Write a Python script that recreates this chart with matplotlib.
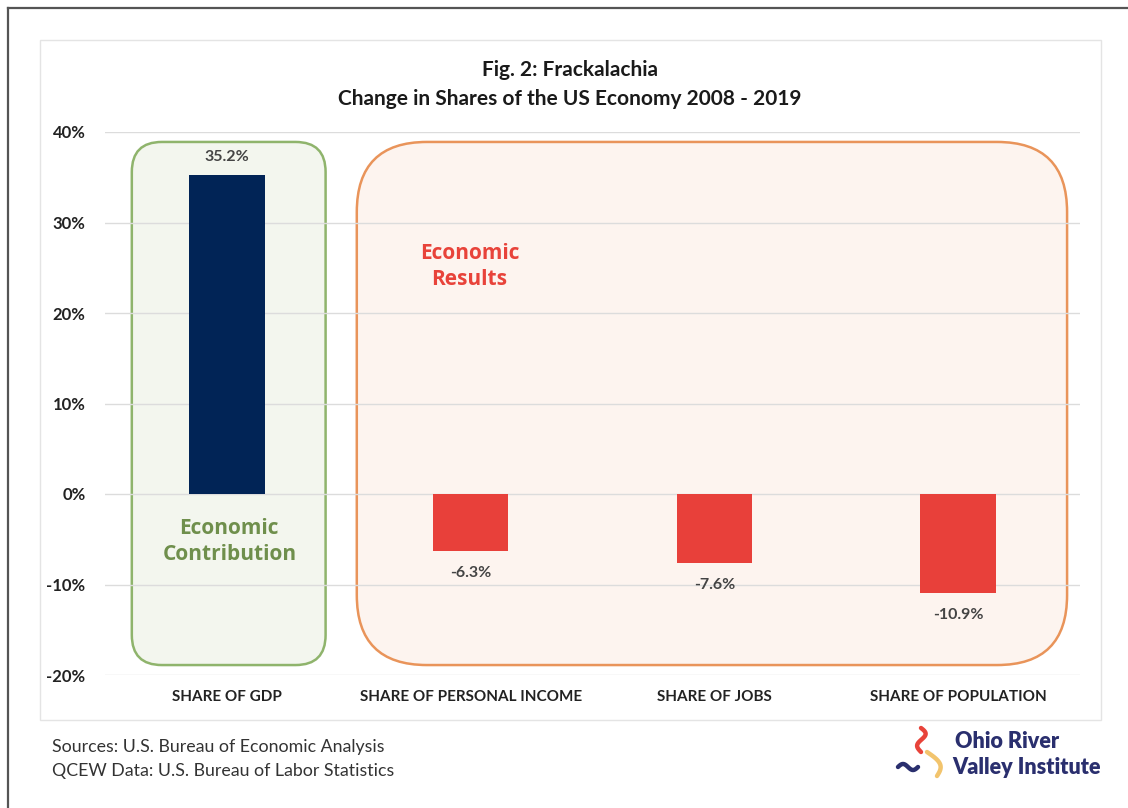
import matplotlib as mpl
mpl.use('Agg')
import matplotlib.pyplot as plt
import numpy as np
from matplotlib.patches import FancyBboxPatch, Rectangle
from matplotlib.lines import Line2D
from matplotlib.transforms import IdentityTransform

plt.rcParams['font.family'] = ['Lato', 'DejaVu Sans']

categories = ['SHARE OF GDP', 'SHARE OF PERSONAL INCOME', 'SHARE OF JOBS', 'SHARE OF POPULATION']
values = [35.2, -6.3, -7.6, -10.9]
bar_colors = ['#012456', '#e8403a', '#e8403a', '#e8403a']
yticks = [-20, -10, 0, 10, 20, 30, 40]

W, H = 1128, 808
fig = plt.figure(figsize=(W / 100, H / 100), dpi=100)
fig.patch.set_facecolor('white')

# helpers for pixel positions on the figure (origin top-left)
def fx(px):
    return px / W
def fy(py):
    return 1 - py / H

# screenshot frame and chart panel border
fig.add_artist(Line2D([fx(8), fx(8)], [fy(8), 0], color='#555555', lw=1.6))
fig.add_artist(Line2D([fx(8), 1], [fy(8), fy(8)], color='#555555', lw=1.6))
fig.add_artist(Rectangle((fx(40), fy(720)), fx(1101) - fx(40), fy(40) - fy(720),
                         transform=fig.transFigure, fill=False, ec='#e4e4e4', lw=1))

ax = fig.add_axes([fx(105), fy(675), fx(1080) - fx(105), fy(132) - fy(675)])
ax.set_xlim(-0.5, len(categories) - 0.5)
ax.set_ylim(-20, 40)
for s in ax.spines.values():
    s.set_visible(False)
for t in yticks:
    ax.axhline(t, color='#dcdcdc', lw=1, zorder=1)

x = np.arange(len(categories))
ax.bar(x, values, width=0.31, color=bar_colors, zorder=3)

for xi, v in zip(x, values):
    off = 13 if v > 0 else -16
    ax.annotate(f'{v:.1f}%', (xi, v), xytext=(0, off), textcoords='offset points',
                ha='center', va='center', fontsize=11.5, fontweight='bold', color='#444444', zorder=4)

ax.set_yticks(yticks)
ax.set_yticklabels([f'{t}%' for t in yticks], fontsize=12, fontweight='bold', color='#222222')
ax.set_xticks(x)
ax.set_xticklabels(categories, fontsize=11, fontweight='bold', color='#222222')
ax.tick_params(length=0)
ax.tick_params(axis='y', pad=14)
ax.tick_params(axis='x', pad=11)

# rounded group boxes, drawn in pixel space so corners stay circular
def group_box(x0, x1, y0, y1, radius, fc, ec):
    (px0, py0), (px1, py1) = ax.transData.transform([(x0, y0), (x1, y1)])
    box = FancyBboxPatch((px0, py0), px1 - px0, py1 - py0,
                         boxstyle=f'round,pad=0,rounding_size={radius}',
                         transform=IdentityTransform(), fc=fc, ec=ec, lw=1.8, zorder=0.5)
    ax.add_patch(box)

group_box(-0.39, 0.405, -18.9, 38.9, 30, '#f3f6ee', '#8fb46c')
group_box(0.533, 3.447, -18.9, 38.9, 70, '#fdf4ef', '#e9945a')

ax.text(0.01, -5.25, 'Economic\nContribution', ha='center', va='center', fontsize=15,
        fontweight='bold', color='#6f8f4c', linespacing=1.35, zorder=4,
        family=['Open Sans', 'DejaVu Sans'])
ax.text(0.995, 25.1, 'Economic\nResults', ha='center', va='center', fontsize=15,
        fontweight='bold', color='#e8433a', linespacing=1.3, zorder=4,
        family=['Open Sans', 'DejaVu Sans'])

fig.text(fx(570), fy(70), 'Fig. 2: Frackalachia', ha='center', va='center',
         fontsize=15, fontweight='bold', color='#1a1a1a')
fig.text(fx(570), fy(99), 'Change in Shares of the US Economy 2008 - 2019', ha='center', va='center',
         fontsize=15, fontweight='bold', color='#1a1a1a')

fig.text(fx(52), fy(747), 'Sources: U.S. Bureau of Economic Analysis', ha='left', va='center',
         fontsize=12.8, color='#333333')
fig.text(fx(52), fy(771), 'QCEW Data: U.S. Bureau of Labor Statistics', ha='left', va='center',
         fontsize=12.8, color='#333333')

# Ohio River Valley Institute mark
t = np.linspace(0, 1, 60)
red_x = 921 + 5 * np.sin(t * 2 * np.pi) * (1 - 0.3 * t)
red_y = 728 + 24 * t
fig.add_artist(Line2D(fx(red_x), fy(red_y), color='#e8433a', lw=3.2, solid_capstyle='round'))
ty = np.linspace(0, 1, 60)
yel_x = 927 + 8 * np.sin(ty * np.pi) + 10 * ty
yel_y = 752 + 24 * ty
fig.add_artist(Line2D(fx(yel_x), fy(yel_y), color='#f2c46d', lw=3.2, solid_capstyle='round'))
tn = np.linspace(0, 1, 60)
nav_x = 898 + 20 * tn
nav_y = 767 - 3 * np.sin(tn * 2 * np.pi)
fig.add_artist(Line2D(fx(nav_x), fy(nav_y), color='#2a2f6e', lw=3.2, solid_capstyle='round'))

fig.text(fx(955), fy(741), 'Ohio River', ha='left', va='center', fontsize=15.5,
         fontweight='heavy', color='#2a2f6e')
fig.text(fx(952), fy(768), 'Valley Institute', ha='left', va='center', fontsize=15.5,
         fontweight='heavy', color='#2a2f6e')

fig.savefig('out.png', dpi=100, facecolor='white')
